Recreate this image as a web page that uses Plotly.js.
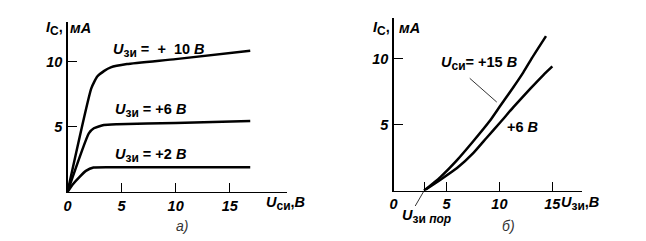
<!DOCTYPE html>
<html><head><meta charset="utf-8">
<script src="https://cdn.plot.ly/plotly-3.0.1.min.js"></script>
<style>html,body{margin:0;padding:0;background:#fff}#c{width:646px;height:241px}</style>
</head><body><div id="c"></div>
<script>
// ---- data: panel a) output characteristics Ic(Uси)
const uds10 = [0, 2.2, 2.75, 3.4, 4.0, 5.5, 10, 16.9];
const ic10  = [0, 7.96, 8.86, 9.3, 9.57, 9.82, 10.2, 10.85];
const uds6  = [0, 1.97, 2.44, 3.36, 4.6, 10, 16.9];
const ic6   = [0, 4.5, 4.89, 5.14, 5.2, 5.3, 5.45];
const uds2  = [0, 0.5, 1.1, 1.7, 2.4, 5, 10, 16.9];
const ic2   = [0, 0.6, 1.15, 1.62, 1.88, 1.9, 1.9, 1.9];
// ---- data: panel б) transfer characteristics Ic(Uзи)
const ugs15 = [2.9, 4.4, 6.0, 7.55, 9.12, 10.07, 11.3, 12.26, 13.2, 14.4];
const icA15 = [0, 1.0, 2.3, 3.75, 5.3, 6.4, 7.8, 8.95, 10.2, 11.7];
const ugs6  = [2.9, 4.4, 6.0, 7.55, 8.8, 10.07, 11.3, 12.9, 14.15, 15.0];
const icA6  = [0, 0.8, 1.7, 2.85, 4.0, 5.15, 6.3, 7.7, 8.75, 9.4];
const uThreshold = 2.9;
// ---- tick labels
const xTicksA = [0, 5, 10, 15], xTickTextA = ['0', '5', '10', '15'];
const xTicksB = [0, uThreshold, 5, 10, 15], xTickTextB = ['0', '', '5', '10', '15'];
const yTicks = [5, 10], yTickText = ['5', '10'];

const W = 646, H = 241;
const px = v => v / W, py = v => 1 - v / H;
const FONT = 'Liberation Sans, Arial, sans-serif';
const FS = 14.5;
const tf = {family: FONT, size: FS, color: '#000', style: 'italic', weight: 'bold'};
const lf = {family: FONT, size: FS, color: '#000', weight: 'bold'};
const thin = {family: FONT, size: 14, color: '#333'};
const line = {color: '#000', width: 2.5, shape: 'spline', smoothing: 0.45};
const sub = s => '<sub><span style="font-size:12px">' + s + '</span></sub>';

const traces = [
  {x: uds10, y: ic10, xaxis: 'x', yaxis: 'y'},
  {x: uds6, y: ic6, xaxis: 'x', yaxis: 'y'},
  {x: uds2, y: ic2, xaxis: 'x', yaxis: 'y'},
  {x: ugs15, y: icA15, xaxis: 'x2', yaxis: 'y2'},
  {x: ugs6, y: icA6, xaxis: 'x2', yaxis: 'y2'}
].map(t => Object.assign({type: 'scatter', mode: 'lines', line, hoverinfo: 'skip', showlegend: false}, t));

const axBase = {showline: true, linecolor: '#000', linewidth: 1.2, ticks: 'inside', ticklen: 9,
  tickcolor: '#000', tickwidth: 1, showgrid: false, zeroline: false, tickfont: tf, fixedrange: true};

const layout = {
  width: W, height: H, margin: {l: 0, r: 0, t: 0, b: 0},
  paper_bgcolor: '#fff', plot_bgcolor: '#fff', showlegend: false,
  xaxis: Object.assign({}, axBase, {domain: [px(67.5), px(287)], range: [0, 20.3],
    tickmode: 'array', tickvals: xTicksA, ticktext: xTickTextA, anchor: 'y'}),
  yaxis: Object.assign({}, axBase, {domain: [py(192), py(22)], range: [0, 13.05],
    tickmode: 'array', tickvals: yTicks, ticktext: yTickText, anchor: 'x', ticklabelstandoff: 1}),
  xaxis2: Object.assign({}, axBase, {domain: [px(393.5), px(582)], range: [0, 17.8],
    tickmode: 'array', tickvals: xTicksB, ticktext: xTickTextB, anchor: 'y2'}),
  yaxis2: Object.assign({}, axBase, {domain: [py(190.5), py(18)], range: [0, 13.07],
    tickmode: 'array', tickvals: yTicks, ticktext: yTickText, anchor: 'x2', ticklabelstandoff: 1}),
  shapes: [
    {type: 'line', xref: 'x2', yref: 'y2', x0: 7.2, y0: 8.5, x1: 9.75, y1: 6.7, line: {color: '#000', width: 0.8}},
    {type: 'line', xref: 'x2', yref: 'paper', x0: uThreshold, y0: py(190.5), x1: 2.05, y1: py(206), line: {color: '#000', width: 0.8}}
  ],
  annotations: [
    // panel a)
    {xref: 'x', yref: 'y', x: 4.0, y: 10.85, text: '<i>U</i>' + sub('зи') + ' =&nbsp; +&nbsp; 10 <i>В</i>'},
    {xref: 'x', yref: 'y', x: 4.2, y: 6.25, text: '<i>U</i>' + sub('зи') + ' = +6 <i>В</i>'},
    {xref: 'x', yref: 'y', x: 4.2, y: 2.8, text: '<i>U</i>' + sub('зи') + ' = +2 <i>В</i>'},
    {xref: 'paper', yref: 'paper', x: px(65), y: py(28), xanchor: 'right', text: '<i>I</i>' + sub('С') + ','},
    {xref: 'paper', yref: 'paper', x: px(68), y: py(28), text: '<i>мА</i>'},
    {xref: 'paper', yref: 'paper', x: px(264), y: py(203), text: '<i>U</i>' + sub('си') + ',<i>В</i>'},
    {xref: 'paper', yref: 'paper', x: px(182), y: py(226), xanchor: 'center', text: '<i>а)</i>', font: thin},
    // panel б)
    {xref: 'paper', yref: 'paper', x: px(392), y: py(28), xanchor: 'right', text: '<i>I</i>' + sub('С') + ','},
    {xref: 'paper', yref: 'paper', x: px(397), y: py(28), text: '<i>мА</i>'},
    {xref: 'x2', yref: 'y2', x: 4.3, y: 9.6, text: '<i>U</i>' + sub('си') + '= +15 <i>В</i>'},
    {xref: 'x2', yref: 'y2', x: 10.5, y: 4.8, text: '+6 <i>В</i>'},
    {xref: 'paper', yref: 'paper', x: px(559), y: py(203), text: '<i>U</i>' + sub('зи') + ',<i>В</i>'},
    {xref: 'paper', yref: 'paper', x: px(400), y: py(216), text: '<i>U</i>' + sub('зи <i>пор</i>')},
    {xref: 'paper', yref: 'paper', x: px(508), y: py(226), xanchor: 'center', text: '<i>б)</i>', font: thin}
  ].map(a => Object.assign({showarrow: false, xanchor: 'left', yanchor: 'middle', font: lf}, a))
};

Plotly.newPlot('c', traces, layout, {staticPlot: true, displayModeBar: false});
</script></body></html>
